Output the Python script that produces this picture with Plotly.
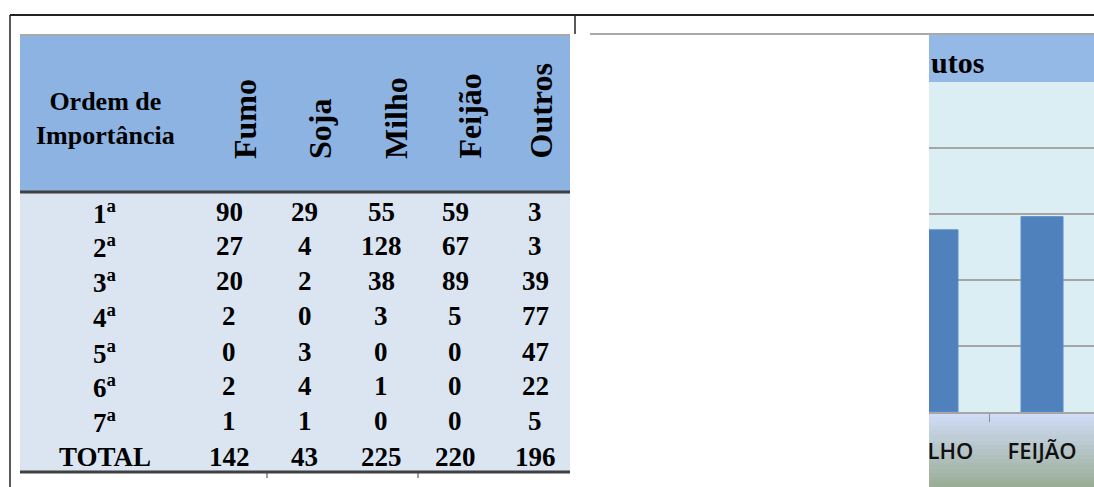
import plotly.graph_objects as go

W, H = 1094, 487

# ---------------- data ----------------
row_labels = ["1ª", "2ª", "3ª", "4ª", "5ª", "6ª", "7ª"]
crops = ["Fumo", "Soja", "Milho", "Feijão", "Outros"]
fumo = [90, 27, 20, 2, 0, 2, 1]
soja = [29, 4, 2, 0, 3, 4, 1]
milho = [55, 128, 38, 3, 0, 1, 0]
feijao = [59, 67, 89, 5, 0, 0, 0]
outros = [3, 3, 39, 77, 47, 22, 5]
total_label = "TOTAL"
header_label = "Ordem de<br>Importância"

chart_title = "utos"
chart_categories = ["MILHO", "FEIJÃO"]
chart_values = [138, 148]

# ---------------- helpers ----------------
def px(x):
    return x / W

def py(y):
    return 1 - y / H

shapes = []
annotations = []

def rect(x0, y0, x1, y1, color, layer="below"):
    shapes.append(dict(type="rect", xref="paper", yref="paper",
                       x0=px(x0), x1=px(x1), y0=py(y1), y1=py(y0),
                       fillcolor=color, line=dict(width=0), layer=layer))

def line(x0, y0, x1, y1, color, width, layer="below"):
    shapes.append(dict(type="line", xref="paper", yref="paper",
                       x0=px(x0), x1=px(x1), y0=py(y0), y1=py(y1),
                       line=dict(color=color, width=width), layer=layer))

def text(x, y, s, size, xanchor="center", yanchor="middle", angle=0, family=None):
    annotations.append(dict(x=px(x), y=py(y), xref="paper", yref="paper",
                            text=s, showarrow=False, xanchor=xanchor, yanchor=yanchor,
                            textangle=angle,
                            font=dict(family=family or serif, size=size,
                                      color="black", weight="bold")))

serif = "Liberation Serif"

# ---------------- table ----------------
rect(20, 36, 570, 192, "#8DB3E2")
rect(20, 192, 570, 472, "#DBE5F1")
line(20, 35, 570, 35, "#8C8C8C", 1.5)
line(20, 192, 570, 192, "#404040", 3)
line(20, 472, 570, 472, "#404040", 3)
line(267, 473, 267, 478, "#404040", 1)
line(418, 473, 418, 478, "#404040", 1)

# frame lines
line(10, 15, 1094, 15, "#222222", 2, layer="above")
line(10, 15, 10, 487, "#222222", 1.5, layer="above")
line(575, 15, 575, 34, "#222222", 1.5, layer="above")
line(590, 34, 1094, 34, "#8C8C8C", 1.5, layer="above")

text(105, 118, header_label, 26)

col_x = [229, 305, 381, 455, 535]
head_x = [245, 320, 396, 470, 541]
for cx, name in zip(head_x, crops):
    text(cx, 161, name, 32, yanchor="bottom", angle=-90)

row_y = [212, 246, 281, 316, 352, 386, 421, 457]
series = [fumo, soja, milho, feijao, outros]
labels = [l.replace("ª", "<sup>a</sup>") for l in row_labels] + [total_label]
for i, ylab in enumerate(labels):
    text(105, row_y[i], ylab, 27)
for cx, vals in zip(col_x, series):
    full = vals + [sum(vals)]
    for i, v in enumerate(full):
        text(cx, row_y[i], str(v), 27)

# ---------------- chart pieces ----------------
rect(929, 35, 1094, 82, "#95B9E6")
# gradient band under the axis
c_top = (0xD0, 0xDB, 0xF5)
c_bot = (0x9B, 0xAE, 0x98)
n = 16
for k in range(n):
    t = k / (n - 1)
    c = tuple(int(round(a + (b - a) * t)) for a, b in zip(c_top, c_bot))
    y0 = 412 + (487 - 412) * k / n
    y1 = 412 + (487 - 412) * (k + 1) / n + 0.6
    rect(929, y0, 1094, y1, "rgb(%d,%d,%d)" % c)

# white panel hiding the left part of the chart
rect(588, 35, 929, 487, "white", layer="above")

text(929, 62, chart_title, 30, xanchor="left")

fig = go.Figure()
fig.add_trace(go.Bar(x=chart_categories, y=chart_values,
                     marker=dict(color="#4F81BD", line=dict(color="#5B8CC8", width=1)),
                     width=0.4, hoverinfo="skip"))

fig.update_layout(
    width=W, height=H,
    margin=dict(l=0, r=0, t=0, b=0, pad=0, autoexpand=False),
    paper_bgcolor="white",
    plot_bgcolor="#DBEEF4",
    showlegend=False,
    shapes=shapes,
    annotations=annotations,
    xaxis=dict(domain=[px(929), 1], range=[-0.076, 1.495], type="category",
               automargin=False,
               tickson="boundaries", ticks="outside", ticklen=8,
               tickcolor="#8C8C8C", showgrid=False, showline=True,
               linecolor="#A6A6A6", linewidth=1.5, ticklabelstandoff=19,
               tickfont=dict(family="Open Sans", size=22, color="#111111", weight=600)),
    yaxis=dict(domain=[py(412), py(82)], range=[0, 250], dtick=50,
               automargin=False,
               showgrid=True, gridcolor="#A6A6A6", gridwidth=1.5,
               showticklabels=False, zeroline=False, showline=False),
)

fig.write_html("out.html", config={"displayModeBar": False},
               post_script="document.body.style.margin='0';")
